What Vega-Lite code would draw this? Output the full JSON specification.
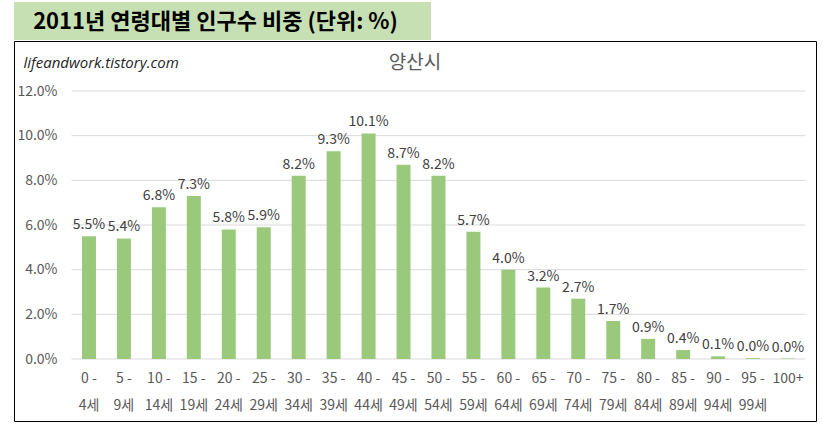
{
  "$schema": "https://vega.github.io/schema/vega-lite/v6.json",
  "padding": {"left": 13, "top": 2, "right": 0, "bottom": 0},
  "background": "white",
  "spacing": 0,
  "config": {"view": {"stroke": null}, "font": "Noto Sans CJK KR"},
  "datasets": {
    "ages": [
      {"age": "0 -|4세", "share": 0.055},
      {"age": "5 -|9세", "share": 0.054},
      {"age": "10 -|14세", "share": 0.068},
      {"age": "15 -|19세", "share": 0.073},
      {"age": "20 -|24세", "share": 0.058},
      {"age": "25 -|29세", "share": 0.059},
      {"age": "30 -|34세", "share": 0.082},
      {"age": "35 -|39세", "share": 0.093},
      {"age": "40 -|44세", "share": 0.101},
      {"age": "45 -|49세", "share": 0.087},
      {"age": "50 -|54세", "share": 0.082},
      {"age": "55 -|59세", "share": 0.057},
      {"age": "60 -|64세", "share": 0.040},
      {"age": "65 -|69세", "share": 0.032},
      {"age": "70 -|74세", "share": 0.027},
      {"age": "75 -|79세", "share": 0.017},
      {"age": "80 -|84세", "share": 0.009},
      {"age": "85 -|89세", "share": 0.004},
      {"age": "90 -|94세", "share": 0.0012},
      {"age": "95 -|99세", "share": 0.0004},
      {"age": "100+", "share": 0.0002}
    ],
    "grid": [{"g": 0}, {"g": 0.02}, {"g": 0.04}, {"g": 0.06}, {"g": 0.08}, {"g": 0.10}, {"g": 0.12}],
    "banner": [{"t": "2011년 연령대별 인구수 비중 (단위: %)"}],
    "mark": [{"t": "lifeandwork.tistory.com"}],
    "city": [{"t": "양산시"}]
  },
  "vconcat": [
    {
      "width": 417,
      "height": 38,
      "view": {"fill": "#C6E0B4", "stroke": null},
      "data": {"name": "banner"},
      "mark": {"type": "text", "fontSize": 22, "fontWeight": "bold", "color": "#000000", "dx": -7, "dy": 1},
      "encoding": {"text": {"field": "t", "type": "nominal"}}
    },
    {
      "width": 802,
      "height": 380,
      "view": {"stroke": "#000000", "strokeWidth": 1},
      "layer": [
        {
          "data": {"name": "grid"},
          "mark": {"type": "rule", "color": "#D9D9D9", "strokeWidth": 1},
          "encoding": {
            "y": {"field": "g", "type": "quantitative"},
            "x": {"datum": "0 -|4세", "type": "nominal", "bandPosition": 0},
            "x2": {"datum": "100+", "bandPosition": 1}
          }
        },
        {
          "data": {"name": "ages"},
          "mark": {"type": "bar", "color": "#9BC97B", "width": {"band": 0.4}},
          "encoding": {
            "x": {
              "field": "age",
              "type": "nominal",
              "sort": null,
              "scale": {
                "domain": ["0 -|4세", "5 -|9세", "10 -|14세", "15 -|19세", "20 -|24세", "25 -|29세", "30 -|34세", "35 -|39세", "40 -|44세", "45 -|49세", "50 -|54세", "55 -|59세", "60 -|64세", "65 -|69세", "70 -|74세", "75 -|79세", "80 -|84세", "85 -|89세", "90 -|94세", "95 -|99세", "100+"],
                "paddingInner": 0,
                "paddingOuter": 0.9735,
                "align": 0.845
              },
              "axis": {
                "title": null,
                "orient": "bottom",
                "offset": -62,
                "domain": false,
                "ticks": false,
                "tickSize": 0,
                "labelAngle": 0,
                "labelAlign": "center",
                "labelPadding": 12,
                "labelFontSize": 14,
                "labelColor": "#595959",
                "labelLineHeight": 27,
                "labelBaseline": "top",
                "labelExpr": "split(datum.value, '|')"
              }
            },
            "y": {
              "field": "share",
              "type": "quantitative",
              "scale": {"domain": [-0.02776, 0.14239], "nice": false, "zero": false},
              "axis": {
                "title": null,
                "values": [0, 0.02, 0.04, 0.06, 0.08, 0.10, 0.12],
                "format": ".1%",
                "grid": false,
                "domain": false,
                "ticks": false,
                "tickSize": 0,
                "offset": -46,
                "labelPadding": 3,
                "labelFontSize": 14,
                "labelColor": "#595959"
              }
            }
          }
        },
        {
          "data": {"name": "ages"},
          "mark": {"type": "text", "baseline": "bottom", "dy": -4, "fontSize": 14, "color": "#404040"},
          "encoding": {
            "x": {"field": "age", "type": "nominal", "sort": null},
            "y": {"field": "share", "type": "quantitative"},
            "text": {"field": "share", "type": "quantitative", "format": ".1%"}
          }
        },
        {
          "data": {"name": "mark"},
          "mark": {"type": "text", "align": "left", "baseline": "middle", "fontStyle": "italic", "fontSize": 15, "color": "#262626", "font": "Open Sans", "dx": -48},
          "encoding": {
            "x": {"datum": "0 -|4세", "type": "nominal", "bandPosition": 0},
            "y": {"datum": 0.1325, "type": "quantitative"},
            "text": {"field": "t", "type": "nominal"}
          }
        },
        {
          "data": {"name": "city"},
          "mark": {"type": "text", "align": "center", "baseline": "middle", "fontSize": 19, "color": "#595959"},
          "encoding": {
            "y": {"datum": 0.1325, "type": "quantitative"},
            "text": {"field": "t", "type": "nominal"}
          }
        }
      ]
    }
  ]
}
